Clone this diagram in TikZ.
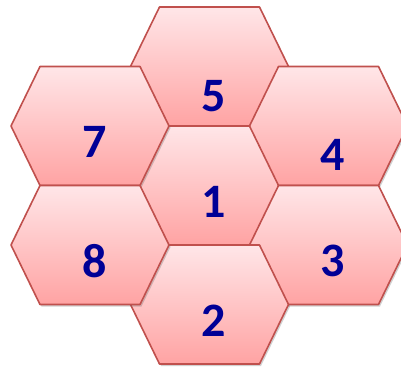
\documentclass[tikz,border=0pt]{standalone}
\usepackage{fontspec}
\setmainfont{Carlito}
\usetikzlibrary{shadows}
\definecolor{hexline}{HTML}{C0504D}
\definecolor{hextop}{HTML}{FFE6E8}
\definecolor{hexbot}{HTML}{FFA3A3}
\definecolor{numblue}{HTML}{000096}
\tikzset{
  hexcell/.style={draw=hexline, line width=1.6pt, line join=round,
    top color=hextop, bottom color=hexbot,
    drop shadow={shadow xshift=1.5pt, shadow yshift=-2pt, opacity=0.3, fill=black!60}},
  num/.style={text=numblue, font=\bfseries\fontsize{48}{48}\selectfont, inner sep=0pt}
}
\newcommand\hexcellat[2]{\path[hexcell] (#1-50,#2+59.5) -- (#1+50,#2+59.5) -- (#1+79,#2) -- (#1+50,#2-59.5) -- (#1-50,#2-59.5) -- (#1-79,#2) -- cycle;}
\begin{document}
\begin{tikzpicture}[x=1pt,y=1pt]
\useasboundingbox (0,0) rectangle (401,370);
\hexcellat{209.5}{303.5}
\node[num] (n5) at (213.5,273.5) {5};
\hexcellat{209.5}{184.5}
\node[num] (n1) at (214,168) {1};
\hexcellat{328.5}{244}
\node[num] (n4) at (333,215) {4};
\hexcellat{328.5}{125}
\node[num] (n3) at (333,109) {3};
\hexcellat{209.5}{65.5}
\node[num] (n2) at (213.5,49) {2};
\hexcellat{90}{244}
\node[num] (n7) at (95,228) {7};
\hexcellat{90}{125}
\node[num] (n8) at (95,109) {8};
\end{tikzpicture}
\end{document}
